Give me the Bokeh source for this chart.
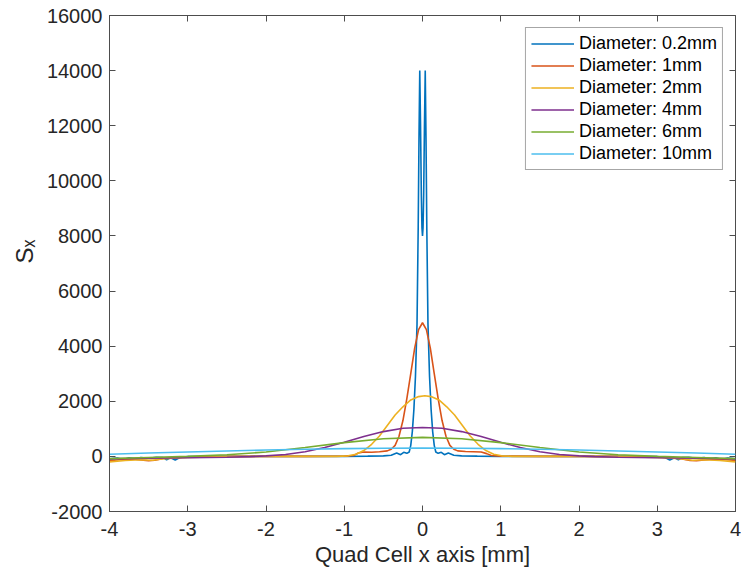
from bokeh.plotting import figure
from bokeh.models import Range1d, LinearAxis, FixedTicker, CustomJSTickFormatter
from bokeh.embed import file_html
from bokeh.resources import INLINE

# ---------------- data ----------------
x_ticks = [-4, -3, -2, -1, 0, 1, 2, 3, 4]
y_ticks = [-2000, 0, 2000, 4000, 6000, 8000, 10000, 12000, 14000, 16000]

labels = ["Diameter: 0.2mm", "Diameter: 1mm", "Diameter: 2mm",
          "Diameter: 4mm", "Diameter: 6mm", "Diameter: 10mm"]
colors = ["#0072BD", "#D95319", "#EDB120", "#7E2F8E", "#77AC30", "#4DBEEE"]

x_d02 = [-4.0, -3.9, -3.82, -3.75, -3.68, -3.6, -3.5, -3.4, -3.32, -3.27, -3.22, -3.16, -3.1, -3.0,
         -2.5, -2.0, -1.5, -1.0, -0.7, -0.5, -0.4, -0.33, -0.28, -0.24, -0.2, -0.17, -0.15, -0.13,
         -0.11, -0.09, -0.07, -0.055, -0.045, -0.035, -0.025, -0.015, -0.007, 0.0,
         0.007, 0.015, 0.025, 0.035, 0.045, 0.055, 0.07, 0.09, 0.11, 0.13, 0.15, 0.17, 0.2, 0.24,
         0.28, 0.33, 0.4, 0.5, 0.7, 1.0, 1.5, 2.0, 2.5, 3.0, 3.1, 3.16, 3.22, 3.27, 3.32, 3.4, 3.5,
         3.6, 3.68, 3.75, 3.82, 3.9, 4.0]
y_d02 = [-90, -60, -110, -50, -90, -40, -70, -30, -40, -120, -50, -130, -40, -10,
         0, 0, 0, 0, 10, 20, 40, 120, 60, 150, 110, 160, 400, 900,
         1700, 2900, 4800, 8300, 11500, 14000, 12000, 9500, 8300, 8000,
         8300, 9500, 12000, 14000, 11500, 8300, 4800, 2900, 1700, 900, 400, 160, 110, 150,
         60, 120, 40, 20, 10, 0, 0, 0, 0, -10, -40, -130, -50, -120, -40, -30, -70,
         -40, -90, -50, -110, -60, -90]

x_d1 = [-4.0, -3.85, -3.7, -3.6, -3.5, -3.42, -3.3, -3.15, -3.0, -2.5, -2.0, -1.5, -1.0,
        -0.88, -0.82, -0.75, -0.65, -0.55, -0.45, -0.4, -0.35, -0.3, -0.25, -0.2, -0.15, -0.1,
        -0.05, 0.0, 0.05, 0.1, 0.15, 0.2, 0.25, 0.3, 0.35, 0.4, 0.45, 0.55, 0.65, 0.75, 0.82,
        0.88, 1.0, 1.5, 2.0, 2.5, 3.0, 3.15, 3.3, 3.42, 3.5, 3.6, 3.7, 3.85, 4.0]
y_d1 = [-160, -110, -90, -130, -160, -140, -70, -40, -20, 0, 0, 0, 10,
        30, 120, 160, 150, 170, 200, 260, 400, 730, 1300, 2100, 3000, 3930,
        4600, 4850, 4600, 3930, 3000, 2100, 1300, 730, 400, 260, 200, 180, 170, 160, 100,
        30, 10, 0, 0, 0, -20, -40, -80, -150, -160, -130, -100, -110, -150]

x_d2 = [-4.0, -3.8, -3.6, -3.45, -3.3, -3.0, -2.5, -2.0, -1.5, -1.1, -0.95, -0.85, -0.75,
        -0.65, -0.55, -0.45, -0.35, -0.25, -0.15, -0.05, 0.03, 0.11, 0.21, 0.31, 0.41, 0.51,
        0.61, 0.71, 0.81, 0.91, 1.01, 1.15, 1.5, 2.0, 2.5, 3.0, 3.3, 3.45, 3.6, 3.8, 4.0]
y_d2 = [-200, -150, -120, -140, -80, -40, -10, 0, 0, 0, 20, 80, 210,
        440, 740, 1120, 1500, 1800, 2050, 2170, 2200, 2170, 2050, 1800, 1500, 1120,
        740, 440, 210, 80, 20, 0, 0, 0, -10, -40, -80, -140, -120, -150, -200]

x_d4 = [-4.0, -3.5, -3.0, -2.5, -2.2, -2.0, -1.75, -1.5, -1.25, -1.0, -0.75, -0.5, -0.25, 0.0,
        0.25, 0.5, 0.75, 1.0, 1.25, 1.5, 1.75, 2.0, 2.2, 2.5, 3.0, 3.5, 4.0]
y_d4 = [-90, -70, -50, -30, -10, 20, 70, 170, 320, 510, 720, 900, 1020, 1050,
        1020, 900, 720, 510, 320, 170, 70, 20, -10, -30, -50, -70, -90]

x_d6 = [-4.0, -3.5, -3.0, -2.5, -2.0, -1.5, -1.0, -0.5, 0.0, 0.5, 1.0, 1.5, 2.0, 2.5, 3.0, 3.5, 4.0]
y_d6 = [-80, -40, 0, 60, 160, 320, 500, 640, 690, 640, 500, 320, 160, 60, 0, -40, -80]

x_d10 = [-4.0, -3.5, -3.0, -2.5, -2.0, -1.5, -1.0, -0.5, 0.0, 0.5, 1.0, 1.5, 2.0, 2.5, 3.0, 3.5, 4.0]
y_d10 = [80, 125, 160, 195, 230, 260, 280, 295, 300, 295, 280, 260, 230, 195, 160, 125, 80]

series_x = [x_d02, x_d1, x_d2, x_d4, x_d6, x_d10]
series_y = [y_d02, y_d1, y_d2, y_d4, y_d6, y_d10]

# ---------------- figure ----------------
FONT = "Liberation Sans"
AX = "#262626"
BOX = "#4d4d4d"
W, H = 741, 571

p = figure(width=W, height=H, x_range=Range1d(-4, 4), y_range=Range1d(-2000, 16000),
           output_backend="svg", toolbar_location=None,
           min_border_left=109, min_border_right=6, min_border_top=15, min_border_bottom=60)
p.background_fill_color = "white"
p.border_fill_color = "white"
p.outline_line_color = BOX
p.outline_line_width = 1
p.grid.visible = False

plain = CustomJSTickFormatter(code="return String(tick)")
empty = CustomJSTickFormatter(code="return ''")

def style_axis(ax, ticks):
    ax.ticker = FixedTicker(ticks=ticks)
    ax.major_tick_in = 6
    ax.major_tick_out = 0
    ax.minor_tick_in = 0
    ax.minor_tick_out = 0
    ax.major_tick_line_color = BOX
    ax.axis_line_color = BOX
    ax.major_label_text_font = FONT
    ax.major_label_text_font_size = "20px"
    ax.major_label_text_color = AX

xa = p.xaxis[0]
style_axis(xa, x_ticks)
xa.formatter = plain
xa.major_label_standoff = 10
xa.axis_label = "Quad Cell x axis [mm]"
xa.axis_label_text_font = FONT
xa.axis_label_text_font_size = "22px"
xa.axis_label_text_font_style = "normal"
xa.axis_label_text_color = AX
xa.axis_label_standoff = 3

ya = p.yaxis[0]
style_axis(ya, y_ticks)
ya.formatter = plain
ya.major_label_standoff = 7
ya.axis_label = "\u2003S\u2093"
ya.axis_label_text_font = "Liberation Sans, DejaVu Sans"
ya.axis_label_text_font_size = "24px"
ya.axis_label_text_font_style = "normal"
ya.axis_label_text_color = AX
ya.axis_label_standoff = 6

for loc, ticks in (("above", x_ticks), ("right", y_ticks)):
    ax = LinearAxis(formatter=empty)
    style_axis(ax, ticks)
    ax.axis_line_color = None
    ax.major_label_standoff = 0
    ax.major_label_text_font_size = "1px"
    p.add_layout(ax, loc)

for xs, ys, c, lab in zip(series_x, series_y, colors, labels):
    p.line(xs, ys, line_color=c, line_width=1.6, legend_label=lab)

lg = p.legend[0]
lg.location = "top_right"
lg.margin = 12
lg.padding = 5
lg.spacing = 1
lg.label_height = 21
lg.glyph_height = 21
lg.glyph_width = 43
lg.label_standoff = 5
lg.label_text_font = FONT
lg.label_text_font_size = "18px"
lg.label_text_color = "#000000"
lg.border_line_color = BOX
lg.border_line_width = 1
lg.background_fill_color = "white"
lg.background_fill_alpha = 1.0

open("out.html", "w").write(file_html(p, INLINE))
